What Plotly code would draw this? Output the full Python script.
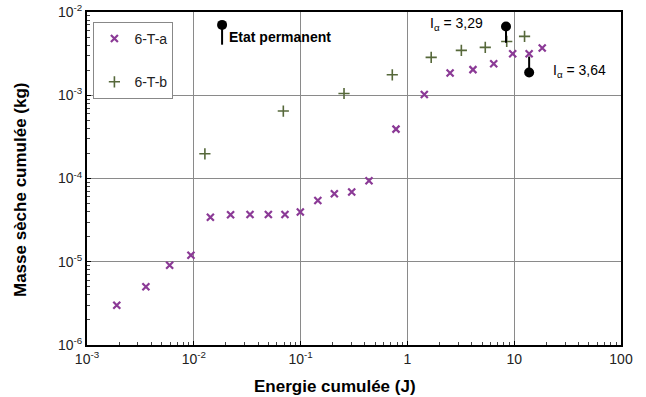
import math
import plotly.graph_objects as go

# Data: 6-T-a
a_x = [0.0019, 0.00356, 0.00594, 0.0094, 0.0143, 0.0221, 0.0336, 0.0499, 0.0714, 0.0994,
       0.145, 0.207, 0.301, 0.437, 0.782, 1.44, 2.51, 4.11, 6.43, 9.68, 13.8, 18.3]
a_y = [3.0e-6, 5.0e-6, 9.1e-6, 1.2e-5, 3.43e-5, 3.66e-5, 3.7e-5, 3.7e-5, 3.7e-5, 3.95e-5,
       5.44e-5, 6.55e-5, 6.87e-5, 9.38e-5, 3.92e-4, 1.02e-3, 1.85e-3, 2.03e-3, 2.39e-3,
       3.15e-3, 3.15e-3, 3.69e-3]

# Data: 6-T-b
b_x = [0.0127, 0.0689, 0.255, 0.722, 1.67, 3.20, 5.36, 8.51, 12.5]
b_y = [1.98e-4, 6.46e-4, 1.05e-3, 1.76e-3, 2.85e-3, 3.46e-3, 3.76e-3, 4.43e-3, 5.09e-3]

# Pin annotations: circle end, stem end
pin_etat_x = [0.0184, 0.0184]
pin_etat_y = [7.0e-3, 4.05e-3]
pin_329_x = [8.38, 8.38]
pin_329_y = [6.7e-3, 4.28e-3]
pin_364_x = [13.8, 13.8]
pin_364_y = [1.88e-3, 2.92e-3]

# Label texts and their anchor points (data units)
labels = ["<b>Etat permanent</b>", "I<sub>α</sub> = 3,29", "I<sub>α</sub> = 3,64"]
label_x = [0.0205, 1.55, 22.0]
label_y = [4.95e-3, 7.1e-3, 1.95e-3]

x_title = "<b>Energie cumulée (J)</b>"
y_title = "<b>Masse sèche cumulée (kg)</b>"

x_tickvals = [0.001, 0.01, 0.1, 1, 10, 100]
x_ticktext = ["10<sup>-3</sup>", "10<sup>-2</sup>", "10<sup>-1</sup>", "1", "10", "100"]
y_tickvals = [1e-6, 1e-5, 1e-4, 1e-3, 1e-2]
y_ticktext = ["10<sup>-6</sup>", "10<sup>-5</sup>", "10<sup>-4</sup>", "10<sup>-3</sup>", "10<sup>-2</sup>"]

FONT = "Liberation Sans, Arial, sans-serif"
W, H = 646, 397
ML, MR, MT, MB = 87, 25, 12, 52
PW, PH = W - ML - MR, H - MT - MB


def px_to_paper(px, py):
    return (px - ML) / PW, (H - MB - py) / PH


fig = go.Figure()
fig.add_trace(go.Scatter(x=a_x, y=a_y, mode="markers", name="6-T-a", legendgroup="a",
                         marker=dict(symbol="x-thin", size=7, color="#8B3A96",
                                     line=dict(width=2.2, color="#8B3A96"))))
fig.add_trace(go.Scatter(x=b_x, y=b_y, mode="markers", name="6-T-b", legendgroup="b",
                         marker=dict(symbol="cross-thin", size=8, color="#56683A",
                                     line=dict(width=1.6, color="#56683A"))))

for px, py in [(pin_etat_x, pin_etat_y), (pin_329_x, pin_329_y), (pin_364_x, pin_364_y)]:
    fig.add_trace(go.Scatter(x=px, y=py, mode="lines", line=dict(color="black", width=2),
                             showlegend=False, hoverinfo="skip"))
    fig.add_trace(go.Scatter(x=[px[0]], y=[py[0]], mode="markers",
                             marker=dict(symbol="circle", size=10, color="black"),
                             showlegend=False, hoverinfo="skip"))

for t, lx, ly in zip(labels, label_x, label_y):
    fig.add_annotation(x=math.log10(lx), y=math.log10(ly), xref="x", yref="y", text=t,
                       showarrow=False, xanchor="left", yanchor="middle",
                       font=dict(family=FONT, size=14, color="black"))

# Axis titles as paper annotations (positioned like the reference)
xt = px_to_paper(335, 386)
yt = px_to_paper(21, 190)
fig.add_annotation(x=xt[0], y=xt[1], xref="paper", yref="paper", text=x_title,
                   showarrow=False, xanchor="center", yanchor="middle",
                   font=dict(family=FONT, size=17, color="black"))
fig.add_annotation(x=yt[0], y=yt[1], xref="paper", yref="paper", text=y_title,
                   showarrow=False, xanchor="center", yanchor="middle", textangle=-90,
                   font=dict(family=FONT, size=17, color="black"))

minor_x = [m * 10.0 ** e for e in range(-3, 2) for m in range(2, 10)]
minor_y = [m * 10.0 ** e for e in range(-6, -2) for m in range(2, 10)]

common = dict(showgrid=True, gridcolor="#8a8a8a", gridwidth=1,
              showline=True, linecolor="black", linewidth=2, mirror=True,
              ticks="inside", ticklen=4, tickcolor="black",
              tickfont=dict(family=FONT, size=14, color="#222"),
              automargin=False, zeroline=False)

fig.update_xaxes(type="log", range=[-3, 2], tickvals=x_tickvals, ticktext=x_ticktext,
                 minor=dict(tickvals=minor_x, ticks="inside", ticklen=3, tickcolor="#444", showgrid=False),
                 **common)
fig.update_yaxes(type="log", range=[-6, -2], tickvals=y_tickvals, ticktext=y_ticktext,
                 minor=dict(tickvals=minor_y, ticks="inside", ticklen=3, tickcolor="#444", showgrid=False),
                 **common)

fig.update_layout(
    width=W, height=H,
    margin=dict(l=ML, r=MR, t=MT, b=MB),
    paper_bgcolor="white", plot_bgcolor="white",
    showlegend=True,
    legend=dict(x=0.012, y=0.97, xanchor="left", yanchor="top",
                bgcolor="white", bordercolor="#888", borderwidth=1,
                font=dict(family=FONT, size=14, color="#222"),
                itemsizing="trace", itemwidth=30, tracegroupgap=22),
    font=dict(family=FONT),
)

fig.write_html("out.html")
